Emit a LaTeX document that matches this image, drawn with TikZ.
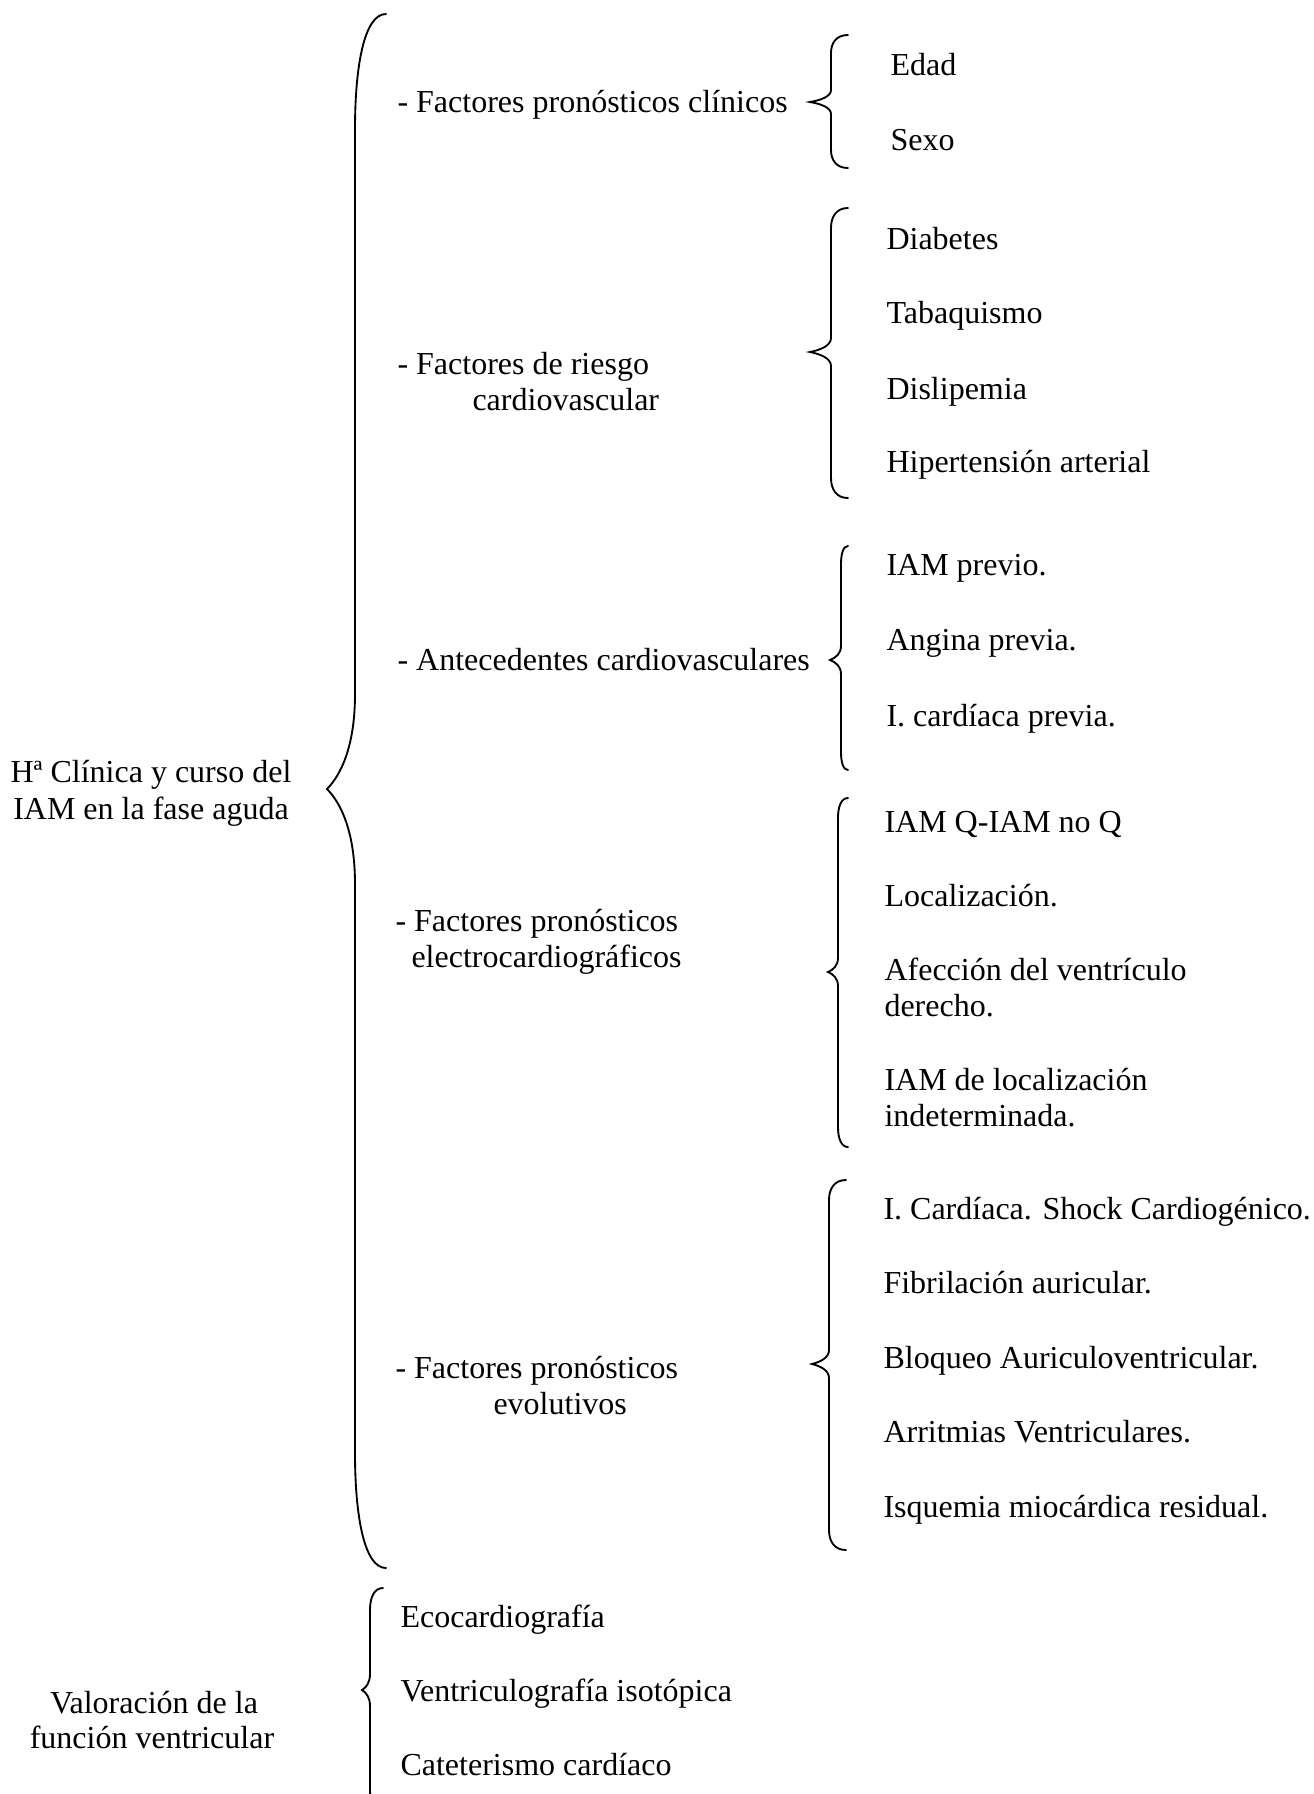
\documentclass[tikz,border=0pt]{standalone}
\usepackage{fontspec}
\setmainfont{Liberation Serif}
% curly brace opening to the right: end x, spine x, tip x, top y, tip y, bottom y, hook length, tip length
\newcommand\curlybrace[8]{%
  \draw[bracestroke] (#1,-#4)
    .. controls ({#2+0.3*(#1-#2)},-#4) and (#2,{-#4-0.45*#7}) .. (#2,-#4-#7)
    -- (#2,-#5+#8)
    .. controls (#2,{-#5+0.45*#8}) and ({#3+0.5*(#2-#3)},{-#5+0.15*#8}) .. (#3,-#5)
    .. controls ({#3+0.5*(#2-#3)},{-#5-0.15*#8}) and (#2,{-#5-0.45*#8}) .. (#2,-#5-#8)
    -- (#2,-#6+#7)
    .. controls (#2,{-#6+0.45*#7}) and ({#2+0.3*(#1-#2)},-#6) .. (#1,-#6);}
\begin{document}
\begin{tikzpicture}[x=0.375pt,y=0.375pt,
  bracestroke/.style={line width=0.7pt,black,line cap=round},
  txt/.style={anchor=base west,inner sep=0pt,font=\fontsize{12}{13.8}\selectfont},
  ctxt/.style={anchor=base,inner sep=0pt,font=\fontsize{12}{13.8}\selectfont}]
\useasboundingbox[fill=white] (0,0) rectangle (1313,-1794);

% root labels
\node[ctxt] (root1) at (151,-782) {Hª Clínica y curso del};
\node[ctxt] (root1b) at (151,-819) {IAM en la fase aguda};
\node[ctxt] (root2) at (154,-1713) {Valoración de la};
\node[ctxt] (root2b) at (152,-1748) {función ventricular};

% main brace
\curlybrace{386}{355}{327}{14}{789}{1568}{115}{95}
% lower brace
\curlybrace{383}{370}{362}{1588}{1690}{1812}{22}{16}

% groups
\node[txt] (g1) at (397,-112) {- Factores pronósticos clínicos};
\node[txt] (g2) at (397,-374) {- Factores de riesgo};
\node[txt] (g2b) at (472,-410) {cardiovascular};
\node[txt] (g3) at (397,-670) {- Antecedentes cardiovasculares};
\node[txt] (g4) at (395,-931) {- Factores pronósticos};
\node[txt] (g4b) at (411,-967) {electrocardiográficos};
\node[txt] (g5) at (395,-1378) {- Factores pronósticos};
\node[txt] (g5b) at (493,-1414) {evolutivos};

% group braces
\curlybrace{848}{831}{810}{35}{102}{168}{18}{12}
\curlybrace{848}{831}{810}{208}{352}{498}{20}{14}
\curlybrace{848}{841}{830}{546}{660}{770}{18}{14}
\curlybrace{848}{838}{828}{798}{972}{1147}{20}{14}
\curlybrace{846}{829}{812}{1180}{1364}{1550}{20}{14}

% items
\node[txt] (a1) at (890,-75) {Edad};
\node[txt] (a2) at (890,-150) {Sexo};

\node[txt] (b1) at (886,-249) {Diabetes};
\node[txt] (b2) at (886,-323) {Tabaquismo};
\node[txt] (b3) at (886,-399) {Dislipemia};
\node[txt] (b4) at (886,-472) {Hipertensión arterial};

\node[txt] (c1) at (886,-575) {IAM previo.};
\node[txt] (c2) at (886,-650) {Angina previa.};
\node[txt] (c3) at (886,-726) {I. cardíaca previa.};

\node[txt] (d1) at (884,-832) {IAM Q-IAM no Q};
\node[txt] (d2) at (884,-906) {Localización.};
\node[txt] (d3) at (884,-980) {Afección del ventrículo};
\node[txt] (d3b) at (884,-1016) {derecho.};
\node[txt] (d4) at (884,-1090) {IAM de localización};
\node[txt] (d4b) at (884,-1126) {indeterminada.};

\node[txt] (e1) at (883,-1219) {I. Cardíaca. Shock Cardiogénico.};
\node[txt] (e2) at (883,-1293) {Fibrilación auricular.};
\node[txt] (e3) at (883,-1368) {Bloqueo Auriculoventricular.};
\node[txt] (e4) at (883,-1442) {Arritmias Ventriculares.};
\node[txt] (e5) at (883,-1517) {Isquemia miocárdica residual.};

\node[txt] (f1) at (400,-1627) {Ecocardiografía};
\node[txt] (f2) at (400,-1701) {Ventriculografía isotópica};
\node[txt] (f3) at (400,-1775) {Cateterismo cardíaco};
\end{tikzpicture}
\end{document}
